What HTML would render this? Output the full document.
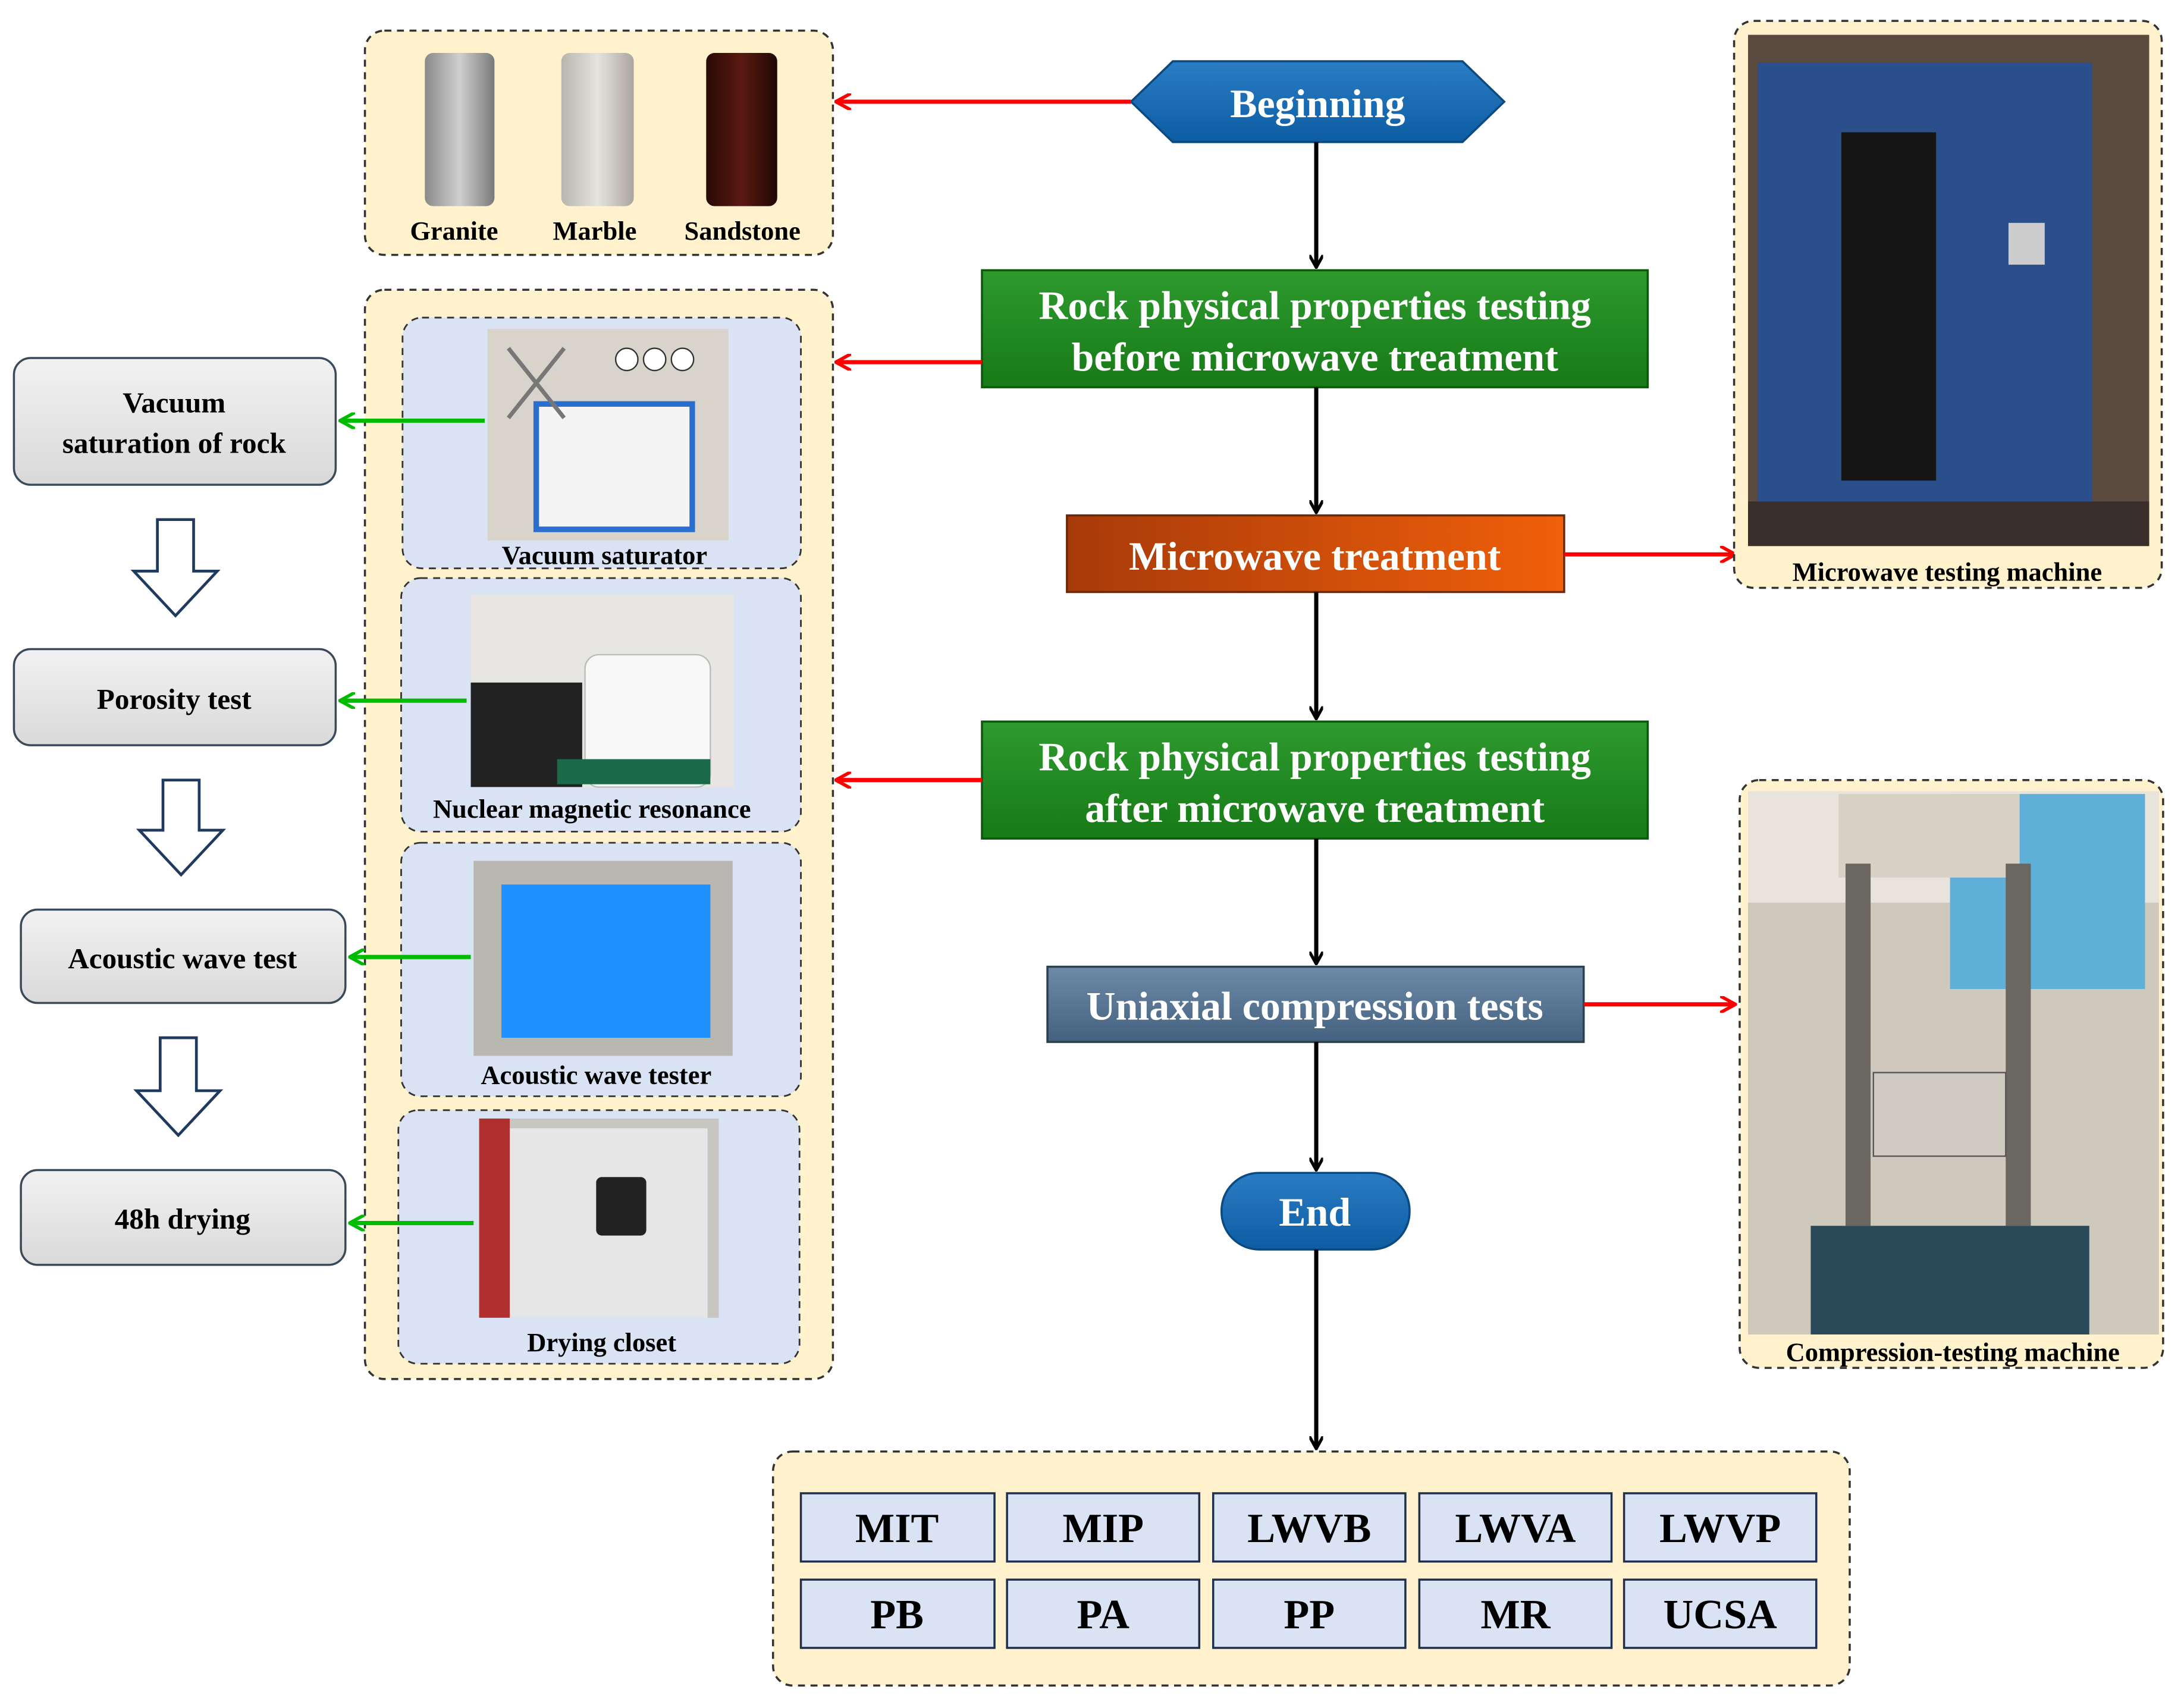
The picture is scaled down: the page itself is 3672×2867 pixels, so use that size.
<!DOCTYPE html>
<html><head><meta charset="utf-8"><style>html,body{margin:0;padding:0;background:#fff}svg{display:block}svg text{font-family:"Liberation Serif",serif;font-weight:bold}</style></head><body>
<svg xmlns="http://www.w3.org/2000/svg" width="3672" height="2867" viewBox="0 0 1568 1224" preserveAspectRatio="none" style="font-family:'Liberation Serif',serif;font-weight:bold">
<defs>
<marker id="ab" markerWidth="10" markerHeight="10" refX="8" refY="5" orient="auto" markerUnits="userSpaceOnUse" viewBox="0 0 10 10"><path d="M0,0 L9,5 L0,10" fill="none" stroke="#000" stroke-width="2.2"/></marker>
<marker id="ar" markerWidth="12" markerHeight="12" refX="10" refY="6" orient="auto" markerUnits="userSpaceOnUse" viewBox="0 0 12 12"><path d="M0,0 L11,6 L0,12" fill="none" stroke="#f00" stroke-width="2.4"/></marker>
<marker id="ag" markerWidth="12" markerHeight="12" refX="10" refY="6" orient="auto" markerUnits="userSpaceOnUse" viewBox="0 0 12 12"><path d="M0,0 L11,6 L0,12" fill="none" stroke="#0b0" stroke-width="2.4"/></marker>
<linearGradient id="gg" x1="0" y1="0" x2="0" y2="1"><stop offset="0" stop-color="#2e9a2e"/><stop offset="1" stop-color="#177a17"/></linearGradient>
<linearGradient id="go" x1="0" y1="0" x2="1" y2="0"><stop offset="0" stop-color="#a83a0a"/><stop offset="1" stop-color="#f0600a"/></linearGradient>
<linearGradient id="gs" x1="0" y1="0" x2="0" y2="1"><stop offset="0" stop-color="#6d8aa8"/><stop offset="1" stop-color="#44627f"/></linearGradient>
<linearGradient id="gb" x1="0" y1="0" x2="0" y2="1"><stop offset="0" stop-color="#2a7cc4"/><stop offset="1" stop-color="#0d5da3"/></linearGradient>
<linearGradient id="gy" x1="0" y1="0" x2="0" y2="1"><stop offset="0" stop-color="#f2f2f2"/><stop offset="1" stop-color="#d9d9d9"/></linearGradient>
<linearGradient id="c1" x1="0" y1="0" x2="1" y2="0"><stop offset="0" stop-color="#8a8a8a"/><stop offset=".5" stop-color="#cfcfcf"/><stop offset="1" stop-color="#7a7a7a"/></linearGradient>
<linearGradient id="c2" x1="0" y1="0" x2="1" y2="0"><stop offset="0" stop-color="#b8b4ae"/><stop offset=".5" stop-color="#e6e3de"/><stop offset="1" stop-color="#aaa59f"/></linearGradient>
<linearGradient id="c3" x1="0" y1="0" x2="1" y2="0"><stop offset="0" stop-color="#2a0a06"/><stop offset=".5" stop-color="#5a1a10"/><stop offset="1" stop-color="#200805"/></linearGradient>
</defs>
<rect width="1568" height="1224" fill="#fff"/>

<rect x="262" y="22" width="336" height="161" rx="14" fill="#fff2cc" stroke="#333" stroke-width="1.5" stroke-dasharray="5,4"/>
<rect x="305" y="38" width="50" height="110" rx="6" fill="url(#c1)"/>
<rect x="403" y="38" width="52" height="110" rx="6" fill="url(#c2)"/>
<rect x="507" y="38" width="51" height="110" rx="6" fill="url(#c3)"/>
<g font-size="19" fill="#000" text-anchor="middle"><text x="326" y="172">Granite</text><text x="427" y="172">Marble</text><text x="533" y="172">Sandstone</text></g>

<rect x="262" y="208" width="336" height="782" rx="14" fill="#fff2cc" stroke="#333" stroke-width="1.5" stroke-dasharray="5,4"/>
<g fill="#dae3f3" stroke="#333" stroke-width="1.2" stroke-dasharray="5,4">
<rect x="289" y="228" width="286" height="180" rx="14"/>
<rect x="288" y="415" width="287" height="182" rx="14"/>
<rect x="288" y="605" width="287" height="182" rx="14"/>
<rect x="286" y="797" width="288" height="182" rx="14"/>
</g>
<rect x="350" y="236" width="173" height="152" fill="#d8d4cc"/>
<rect x="385" y="290" width="112" height="90" fill="#f4f4f4" stroke="#2a6fd0" stroke-width="4"/>
<circle cx="450" cy="258" r="8" fill="#fff" stroke="#333"/><circle cx="470" cy="258" r="8" fill="#fff" stroke="#333"/><circle cx="490" cy="258" r="8" fill="#fff" stroke="#333"/>
<path d="M365,250 L405,300 M405,250 L365,300" stroke="#777" stroke-width="3"/>
<rect x="338" y="427" width="189" height="138" fill="#e8e6e2"/>
<rect x="338" y="490" width="80" height="75" fill="#222"/>
<rect x="420" y="470" width="90" height="95" rx="10" fill="#f8f8f8" stroke="#bbb"/>
<rect x="400" y="545" width="110" height="18" fill="#1a6a4a"/>
<rect x="340" y="618" width="186" height="140" fill="#b8b8b0"/>
<rect x="360" y="635" width="150" height="110" fill="#1e90ff"/>
<rect x="344" y="803" width="172" height="143" fill="#c8c6c0"/>
<rect x="358" y="810" width="150" height="136" fill="#e6e6e6"/>
<rect x="428" y="845" width="36" height="42" rx="4" fill="#222"/>
<rect x="344" y="803" width="22" height="143" fill="#b03030"/>
<g font-size="19" fill="#000" text-anchor="middle">
<text x="434" y="405">Vacuum saturator</text>
<text x="425" y="587">Nuclear magnetic resonance</text>
<text x="428" y="778">Acoustic wave tester</text>
<text x="432" y="970">Drying closet</text>
</g>

<g fill="url(#gy)" stroke="#3a4a5a" stroke-width="1.5">
<rect x="10" y="257" width="231" height="91" rx="12"/>
<rect x="10" y="466" width="231" height="69" rx="12"/>
<rect x="15" y="653" width="233" height="67" rx="12"/>
<rect x="15" y="840" width="233" height="68" rx="12"/>
</g>
<g font-size="21" fill="#000" text-anchor="middle">
<text x="125" y="296">Vacuum</text><text x="125" y="325">saturation of rock</text>
<text x="125" y="509">Porosity test</text>
<text x="131" y="695">Acoustic wave test</text>
<text x="131" y="882">48h drying</text>
</g>
<g fill="#fff" stroke="#1f3a5f" stroke-width="2">
<path d="M113,373 L139,373 L139,410 L156,410 L126,442 L96,410 L113,410 Z"/>
<path d="M117,560 L143,560 L143,596 L160,596 L130,628 L100,596 L117,596 Z"/>
<path d="M115,745 L141,745 L141,783 L158,783 L128,815 L98,783 L115,783 Z"/>
</g>
<g stroke="#0b0" stroke-width="3" marker-end="url(#ag)">
<line x1="348" y1="302" x2="245" y2="302"/>
<line x1="335" y1="503" x2="245" y2="503"/>
<line x1="338" y1="687" x2="252" y2="687"/>
<line x1="340" y1="878" x2="252" y2="878"/>
</g>

<polygon points="812,73 842,44 1050,44 1080,73 1050,102 842,102" fill="url(#gb)" stroke="#0a4a80" stroke-width="1.5"/>
<text x="946" y="84" font-size="29" fill="#fff" text-anchor="middle">Beginning</text>
<rect x="705" y="194" width="478" height="84" fill="url(#gg)" stroke="#0a5a0a" stroke-width="1.5"/>
<text x="944" y="229" font-size="29" fill="#fff" text-anchor="middle">Rock physical properties testing</text>
<text x="944" y="266" font-size="29" fill="#fff" text-anchor="middle">before microwave treatment</text>
<rect x="766" y="370" width="357" height="55" fill="url(#go)" stroke="#6a2a0a" stroke-width="1.5"/>
<text x="944" y="409" font-size="29" fill="#fff" text-anchor="middle">Microwave treatment</text>
<rect x="705" y="518" width="478" height="84" fill="url(#gg)" stroke="#0a5a0a" stroke-width="1.5"/>
<text x="944" y="553" font-size="29" fill="#fff" text-anchor="middle">Rock physical properties testing</text>
<text x="944" y="590" font-size="29" fill="#fff" text-anchor="middle">after microwave treatment</text>
<rect x="752" y="694" width="385" height="54" fill="url(#gs)" stroke="#2a4050" stroke-width="1.5"/>
<text x="944" y="732" font-size="29" fill="#fff" text-anchor="middle">Uniaxial compression tests</text>
<rect x="877" y="842" width="135" height="55" rx="27" fill="url(#gb)" stroke="#0a4a80" stroke-width="1.5"/>
<text x="944" y="880" font-size="29" fill="#fff" text-anchor="middle">End</text>

<g stroke="#000" stroke-width="3" marker-end="url(#ab)">
<line x1="945" y1="102" x2="945" y2="191"/>
<line x1="945" y1="278" x2="945" y2="367"/>
<line x1="945" y1="425" x2="945" y2="515"/>
<line x1="945" y1="602" x2="945" y2="691"/>
<line x1="945" y1="748" x2="945" y2="839"/>
<line x1="945" y1="897" x2="945" y2="1039"/>
</g>
<g stroke="#f00" stroke-width="3" marker-end="url(#ar)">
<line x1="812" y1="73" x2="601" y2="73"/>
<line x1="705" y1="260" x2="601" y2="260"/>
<line x1="705" y1="560" x2="601" y2="560"/>
<line x1="1123" y1="398" x2="1245" y2="398"/>
<line x1="1137" y1="721" x2="1245" y2="721"/>
</g>

<rect x="1245" y="15" width="307" height="407" rx="14" fill="#fff2cc" stroke="#333" stroke-width="1.5" stroke-dasharray="5,4"/>
<rect x="1255" y="25" width="288" height="367" fill="#5a4a40"/>
<rect x="1262" y="45" width="240" height="320" fill="#2b4f8a"/>
<rect x="1322" y="95" width="68" height="250" fill="#151515"/>
<rect x="1442" y="160" width="26" height="30" fill="#ccc"/>
<rect x="1255" y="360" width="288" height="32" fill="#3a2f2a"/>
<text x="1398" y="417" font-size="19" fill="#000" text-anchor="middle">Microwave testing machine</text>

<rect x="1249" y="560" width="304" height="422" rx="14" fill="#fff2cc" stroke="#333" stroke-width="1.5" stroke-dasharray="5,4"/>
<rect x="1255" y="568" width="295" height="390" fill="#cfc8bd"/>
<rect x="1255" y="568" width="295" height="80" fill="#e8e4dc"/>
<rect x="1400" y="570" width="140" height="140" fill="#5fb0d8"/>
<rect x="1320" y="570" width="130" height="60" fill="#d8d2c6"/>
<rect x="1325" y="620" width="18" height="260" fill="#6a6660"/>
<rect x="1440" y="620" width="18" height="260" fill="#6a6660"/>
<rect x="1345" y="770" width="95" height="60" fill="#d0cbc0" stroke="#555"/>
<rect x="1300" y="880" width="200" height="78" fill="#2a4a5a"/>
<text x="1402" y="977" font-size="19" fill="#000" text-anchor="middle">Compression-testing machine</text>

<rect x="555" y="1042" width="773" height="168" rx="14" fill="#fff2cc" stroke="#333" stroke-width="1.5" stroke-dasharray="5,4"/>
<g fill="#dae3f3" stroke="#1f2f4f" stroke-width="1.5">
<rect x="575" y="1072" width="139" height="49"/><rect x="723" y="1072" width="138" height="49"/><rect x="871" y="1072" width="138" height="49"/><rect x="1019" y="1072" width="138" height="49"/><rect x="1166" y="1072" width="138" height="49"/>
<rect x="575" y="1134" width="139" height="49"/><rect x="723" y="1134" width="138" height="49"/><rect x="871" y="1134" width="138" height="49"/><rect x="1019" y="1134" width="138" height="49"/><rect x="1166" y="1134" width="138" height="49"/>
</g>
<g font-size="30" fill="#000" text-anchor="middle">
<text x="644" y="1107">MIT</text><text x="792" y="1107">MIP</text><text x="940" y="1107">LWVB</text><text x="1088" y="1107">LWVA</text><text x="1235" y="1107">LWVP</text>
<text x="644" y="1169">PB</text><text x="792" y="1169">PA</text><text x="940" y="1169">PP</text><text x="1088" y="1169">MR</text><text x="1235" y="1169">UCSA</text>
</g>
</svg>
</body></html>
